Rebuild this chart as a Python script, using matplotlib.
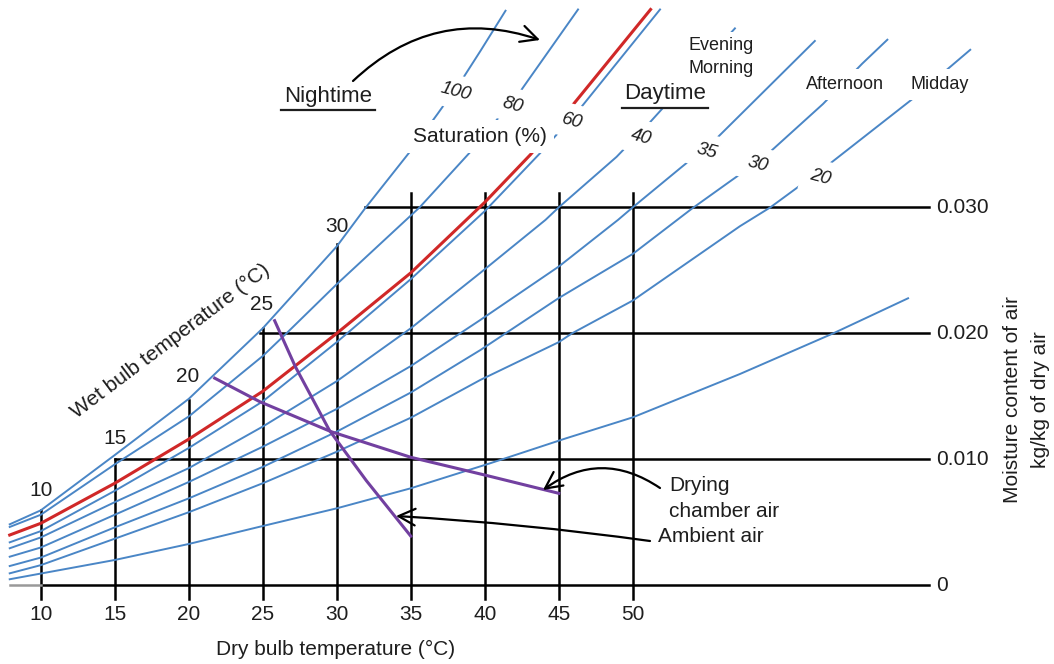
import numpy as np
import matplotlib
matplotlib.use("Agg")
import matplotlib.pyplot as plt
import matplotlib.transforms as mtransforms
from matplotlib.lines import Line2D

plt.rcParams["font.family"] = ["Liberation Sans", "DejaVu Sans"]

# ---------------- data (dry bulb °C, moisture content g/kg) ----------------
sat100_T = [7.9, 10, 15, 20, 25, 30, 31.9, 35, 36.8, 38.5, 39.7, 41.4]
sat100_W = [4.84, 5.95, 10.34, 14.8, 20.4, 26.9, 29.9, 34.5, 37.4, 40.2, 42.4, 45.6]
sat80_T = [7.9, 10, 15, 20, 25, 26.6, 30, 35.6, 38.95, 42.4, 46.3]
sat80_W = [4.63, 5.6, 9.6, 13.4, 18.2, 20.0, 23.9, 30.0, 34.3, 39.2, 45.7]
sat60_T = [7.9, 10, 15, 20, 25, 30, 35, 40, 43.7, 46.55, 51.84]
sat60_W = [3.41, 4.3, 7.5, 10.9, 14.6, 19.3, 24.3, 29.7, 34.25, 38.0, 45.7]
sat40_T = [7.9, 10, 15, 20, 25, 30, 35, 39.7, 44.1, 45, 48.9, 51.2, 56.9]
sat40_W = [2.94, 3.8, 6.6, 9.3, 12.6, 16.2, 20.4, 24.8, 29.0, 30.0, 34.0, 36.8, 44.2]
sat35_T = [7.9, 10, 15, 20, 25, 30, 35, 39.7, 45, 49.0, 50, 53.2, 55.6, 62.3]
sat35_W = [2.27, 3.0, 5.6, 8.2, 11.0, 14.0, 17.4, 21.06, 25.3, 29.0, 30.0, 33.1, 35.4, 43.2]
sat30_T = [7.9, 10, 15, 20, 25, 30, 35, 39.7, 45, 50, 53.0, 54.0, 56.5, 58.9, 62.85, 65.5, 67.2]
sat30_W = [1.53, 2.2, 4.6, 6.9, 9.4, 12.2, 15.3, 18.67, 22.8, 26.3, 29.0, 29.9, 32.0, 34.0, 38.2, 41.4, 43.3]
sat20_T = [7.9, 10, 15, 20, 25, 30, 35, 39.7, 45, 45.9, 50, 57.24, 59.3, 63.3, 68.9, 72.8]
sat20_W = [0.95, 1.6, 3.7, 5.8, 8.1, 10.6, 13.3, 16.3, 19.3, 20.0, 22.6, 28.5, 30.0, 33.45, 38.6, 42.5]
sat10_T = [7.9, 15, 20, 24.8, 30, 35, 40.35, 45.5, 50, 57.24, 63.55, 68.6]
sat10_W = [0.48, 2.01, 3.28, 4.65, 6.11, 7.70, 9.68, 11.67, 13.33, 16.77, 20.0, 22.78]
red_T = [7.9, 10, 15, 20, 25, 30, 35, 40, 43.1, 46.0, 51.2]
red_W = [3.99, 4.92, 8.1, 11.6, 15.4, 20.0, 24.8, 30.4, 34.2, 38.2, 45.7]
drying_T = [21.75, 24.8, 29.6, 35.0, 40.0, 45.0]
drying_W = [16.44, 14.57, 12.2, 10.16, 8.75, 7.3]
ambient_T = [25.8, 27.2, 29.5, 32.0, 35.0]
ambient_W = [21.0, 17.35, 12.3, 8.3, 3.9]

# grid: verticals (dry bulb) and horizontals (moisture)
vert_T = [10, 15, 20, 25, 30, 35, 40, 45, 50]
vert_top = [6.0, 10.0, 14.7, 20.4, 27.1, 31.1, 31.1, 31.1, 31.1]
horiz_W = [0, 10, 20, 30]
horiz_start = [10, 15, 24.8, 31.9]
horiz_end = 70.0
x_ticks = [10, 15, 20, 25, 30, 35, 40, 45, 50]
y_tick_labels = ["0", "0.010", "0.020", "0.030"]
wb_labels = ["10", "15", "20", "25", "30"]
sat_labels = ["100", "80", "60", "40", "35", "30", "20"]

KG = 1e-3  # g/kg -> kg/kg

BLUE = "#4a86c6"
RED = "#d02828"
PURPLE = "#7240a0"
INK = "#1e1e1e"

W_PX, H_PX = 1054, 664
fig = plt.figure(figsize=(W_PX / 100, H_PX / 100), dpi=100)
ax = fig.add_axes([0, 0, 1, 1])
ax.set_xlim(10 + (0 - 40.8) / 14.8, 10 + (W_PX - 40.8) / 14.8)
ax.set_ylim((585.3 - H_PX) / 12.6 * KG, 585.3 / 12.6 * KG)
ax.axis("off")

pix = mtransforms.Affine2D().scale(1 / W_PX, -1 / H_PX).translate(0, 1) + fig.transFigure

# grid lines
for t, top in zip(vert_T, vert_top):
    ax.plot([t, t], [-1.1 * KG, top * KG], color="black", lw=1.8, zorder=2)
for w, s in zip(horiz_W, horiz_start):
    ax.plot([s, horiz_end], [w * KG, w * KG], color="black", lw=1.8, zorder=2)
ax.plot([sat10_T[0], 10], [0, 0], color="#999999", lw=1.8, zorder=2)

# saturation curves
for T, Wv in [(sat100_T, sat100_W), (sat80_T, sat80_W), (sat60_T, sat60_W),
              (sat40_T, sat40_W), (sat35_T, sat35_W), (sat30_T, sat30_W),
              (sat20_T, sat20_W), (sat10_T, sat10_W)]:
    ax.plot(T, np.array(Wv) * KG, color=BLUE, lw=1.4, zorder=3,
            solid_joinstyle="round")
ax.plot(red_T, np.array(red_W) * KG, color=RED, lw=2.2, zorder=4)
ax.plot(drying_T, np.array(drying_W) * KG, color=PURPLE, lw=2.2, zorder=5)
ax.plot(ambient_T, np.array(ambient_W) * KG, color=PURPLE, lw=2.2, zorder=5)

# tick labels
tick_y = (585.3 - 615) / 12.6 * KG
for t in x_ticks:
    ax.text(t, tick_y, str(t), ha="center", va="center", fontsize=15, color=INK)
for w, lab in zip(horiz_W, y_tick_labels):
    ax.text(70.5, w * KG, lab, ha="left", va="center", fontsize=15, color=INK)

# wet bulb labels
wb_pos = [(41, 491), (115, 438), (188, 377), (262, 305), (337, 226)]
for (x, y), lab in zip(wb_pos, wb_labels):
    ax.text(x, y, lab, transform=pix, ha="center", va="center", fontsize=15, color=INK)

ax.text(170, 341, "Wet bulb temperature (°C)", transform=pix, ha="center", va="center",
        rotation=37, rotation_mode="anchor", fontsize=15, color=INK)

white = dict(boxstyle="square,pad=0.45", fc="white", ec="none")
# saturation labels (italic, on the curves)
sat_pos = [(456, 92), (513, 105), (572, 121), (641, 137), (707, 151), (758, 164), (820, 177)]
for (x, y), lab in zip(sat_pos, sat_labels):
    ax.text(x, y, lab, transform=pix, ha="center", va="center", fontsize=13.5,
            style="italic", rotation=-15, color=INK, bbox=white, zorder=10)

ax.text(413, 142, "Saturation (%)", transform=pix, ha="left", va="baseline", fontsize=15,
        color=INK, bbox=dict(boxstyle="square,pad=0.35", fc="white", ec="none"), zorder=10)
ax.text(328, 102, "Nightime", transform=pix, ha="center", va="baseline", fontsize=16,
        color=INK, zorder=10)
fig.add_artist(Line2D([281, 375], [110, 110], transform=pix, color=INK, lw=1.6))
ax.text(665, 99, "Daytime", transform=pix, ha="center", va="baseline", fontsize=16,
        color=INK, bbox=dict(boxstyle="square,pad=0.2", fc="white", ec="none"), zorder=10)
fig.add_artist(Line2D([622, 708], [107.5, 107.5], transform=pix, color=INK, lw=1.6))
ax.text(689, 50, "Evening", transform=pix, ha="left", va="baseline", fontsize=13,
        color=INK, bbox=dict(boxstyle="square,pad=0.25", fc="white", ec="none"), zorder=10)
ax.text(689, 73, "Morning", transform=pix, ha="left", va="baseline", fontsize=13,
        color=INK, bbox=dict(boxstyle="square,pad=0.25", fc="white", ec="none"), zorder=10)
ax.text(806, 89, "Afternoon", transform=pix, ha="left", va="baseline", fontsize=13,
        color=INK, bbox=dict(boxstyle="square,pad=0.4", fc="white", ec="none"), zorder=10)
ax.text(910, 89, "Midday", transform=pix, ha="left", va="baseline", fontsize=13,
        color=INK, bbox=dict(boxstyle="square,pad=0.4", fc="white", ec="none"), zorder=10)

ax.text(336, 649, "Dry bulb temperature (°C)", transform=pix, ha="center", va="center",
        fontsize=15, color=INK)
ax.text(1012, 400, "Moisture content of air", transform=pix, ha="center", va="center",
        rotation=90, fontsize=15, color=INK)
ax.text(1040, 400, "kg/kg of dry air", transform=pix, ha="center", va="center",
        rotation=90, fontsize=15, color=INK)

ax.text(669, 491, "Drying", transform=pix, ha="left", va="baseline", fontsize=15, color=INK)
ax.text(669, 517, "chamber air", transform=pix, ha="left", va="baseline", fontsize=15, color=INK)
ax.text(658, 536, "Ambient air", transform=pix, ha="left", va="center", fontsize=15, color=INK)

arrow = dict(arrowstyle="->,head_length=0.6,head_width=0.3", color="black", lw=1.6,
             shrinkA=0, shrinkB=0, mutation_scale=20)
ax.annotate("", xy=(540, 40), xytext=(353, 81), xycoords=pix, textcoords=pix,
            arrowprops=dict(arrow, connectionstyle="arc3,rad=-0.3"), zorder=11)
ax.annotate("", xy=(543, 490), xytext=(660, 488), xycoords=pix, textcoords=pix,
            arrowprops=dict(arrow, connectionstyle="arc3,rad=0.35"), zorder=11)
ax.annotate("", xy=(396, 516), xytext=(650, 541), xycoords=pix, textcoords=pix,
            arrowprops=dict(arrow, connectionstyle="arc3,rad=0.02"), zorder=11)

fig.savefig("out.png", dpi=100)
